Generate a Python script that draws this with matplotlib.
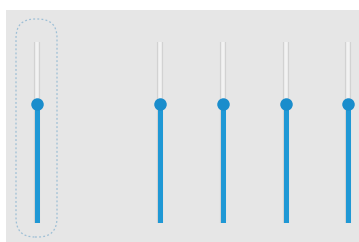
import matplotlib.pyplot as plt
from matplotlib.patches import FancyBboxPatch, Rectangle
from matplotlib.transforms import IdentityTransform

# slider data
slider_names = ["master", "ch1", "ch2", "ch3", "ch4"]
slider_values = [66, 66, 66, 66, 66]
slider_max = 100

x_pos = [37, 160, 223, 286, 348]  # pixel columns of each slider

fig = plt.figure(figsize=(3.59, 2.42), dpi=100)
fig.patch.set_facecolor("white")
fig.patches.append(Rectangle((6 / 359, 0), 1, 1 - 10 / 242, transform=fig.transFigure,
                             facecolor="#e6e6e6", edgecolor="none", zorder=-5))

# axes spans the track height: from 19px to 200px above bottom
ax = fig.add_axes([0, 19 / 242, 1, 181 / 242])
ax.set_zorder(2)
ax.set_xlim(0, 359)
ax.set_ylim(0, slider_max)
ax.axis("off")

for x, v in zip(x_pos, slider_values):
    # empty track
    ax.plot([x, x], [0, slider_max], color="#d2d2d2", lw=4.4, solid_capstyle="butt", zorder=1)
    ax.plot([x, x], [0, slider_max], color="#f2f2f2", lw=2.6, solid_capstyle="butt", zorder=2)
    # filled part
    ax.plot([x, x], [0, v], color="#1f98d5", lw=3.6, solid_capstyle="butt", zorder=3)
    # thumb
    ax.plot([x], [v], marker="o", markersize=9, color="#1a8dcc", markeredgewidth=0, zorder=4)

# focus ring around the first slider (pixel coordinates)
ring = FancyBboxPatch((16, 5), 41, 218,
                      boxstyle="round,pad=0,rounding_size=19",
                      transform=IdentityTransform(),
                      facecolor="none", edgecolor="#9dbfd6", lw=0.9,
                      linestyle=(0, (1.5, 1.8)), zorder=3)
fig.patches.append(ring)

plt.savefig("out.png", dpi=100)
